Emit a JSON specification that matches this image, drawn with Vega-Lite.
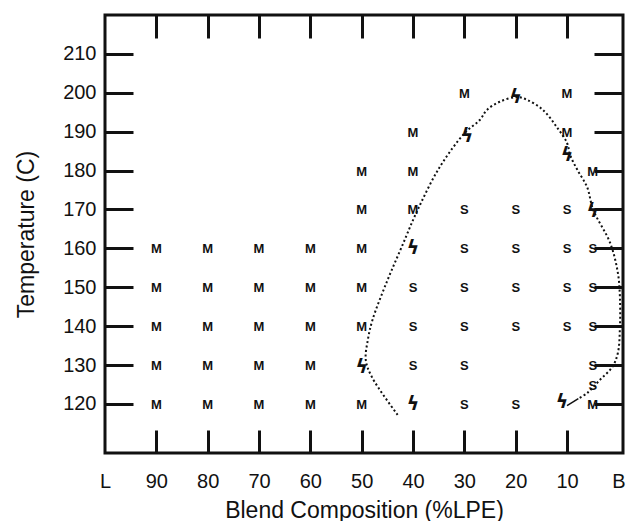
{
  "$schema": "https://vega.github.io/schema/vega-lite/v6.json",
  "width": 518,
  "height": 438,
  "autosize": "none",
  "padding": {"left": 105, "top": 15, "right": 4, "bottom": 68},
  "background": "white",
  "config": {
    "font": "Liberation Sans",
    "view": {"stroke": "#111", "strokeWidth": 3},
    "axis": {
      "grid": false,
      "domain": false,
      "tickColor": "#111",
      "tickWidth": 3,
      "labelColor": "#111",
      "titleColor": "#111",
      "labelFont": "Liberation Sans",
      "titleFont": "Liberation Sans",
      "labelFontSize": 20,
      "titleFontSize": 23,
      "titleFontWeight": "normal",
      "labelFlush": false,
      "labelOverlap": false
    }
  },
  "datasets": {
    "phases": [
      {"comp": 30, "temp": 200, "phase": "M"},
      {"comp": 10, "temp": 200, "phase": "M"},
      {"comp": 40, "temp": 190, "phase": "M"},
      {"comp": 10, "temp": 190, "phase": "M"},
      {"comp": 50, "temp": 180, "phase": "M"},
      {"comp": 40, "temp": 180, "phase": "M"},
      {"comp": 5, "temp": 180, "phase": "M"},
      {"comp": 50, "temp": 170, "phase": "M"},
      {"comp": 40, "temp": 170, "phase": "M"},
      {"comp": 30, "temp": 170, "phase": "S"},
      {"comp": 20, "temp": 170, "phase": "S"},
      {"comp": 10, "temp": 170, "phase": "S"},
      {"comp": 90, "temp": 160, "phase": "M"},
      {"comp": 80, "temp": 160, "phase": "M"},
      {"comp": 70, "temp": 160, "phase": "M"},
      {"comp": 60, "temp": 160, "phase": "M"},
      {"comp": 50, "temp": 160, "phase": "M"},
      {"comp": 30, "temp": 160, "phase": "S"},
      {"comp": 20, "temp": 160, "phase": "S"},
      {"comp": 10, "temp": 160, "phase": "S"},
      {"comp": 5, "temp": 160, "phase": "S"},
      {"comp": 90, "temp": 150, "phase": "M"},
      {"comp": 80, "temp": 150, "phase": "M"},
      {"comp": 70, "temp": 150, "phase": "M"},
      {"comp": 60, "temp": 150, "phase": "M"},
      {"comp": 50, "temp": 150, "phase": "M"},
      {"comp": 40, "temp": 150, "phase": "S"},
      {"comp": 30, "temp": 150, "phase": "S"},
      {"comp": 20, "temp": 150, "phase": "S"},
      {"comp": 10, "temp": 150, "phase": "S"},
      {"comp": 5, "temp": 150, "phase": "S"},
      {"comp": 90, "temp": 140, "phase": "M"},
      {"comp": 80, "temp": 140, "phase": "M"},
      {"comp": 70, "temp": 140, "phase": "M"},
      {"comp": 60, "temp": 140, "phase": "M"},
      {"comp": 50, "temp": 140, "phase": "M"},
      {"comp": 40, "temp": 140, "phase": "S"},
      {"comp": 30, "temp": 140, "phase": "S"},
      {"comp": 20, "temp": 140, "phase": "S"},
      {"comp": 10, "temp": 140, "phase": "S"},
      {"comp": 5, "temp": 140, "phase": "S"},
      {"comp": 90, "temp": 130, "phase": "M"},
      {"comp": 80, "temp": 130, "phase": "M"},
      {"comp": 70, "temp": 130, "phase": "M"},
      {"comp": 60, "temp": 130, "phase": "M"},
      {"comp": 40, "temp": 130, "phase": "S"},
      {"comp": 30, "temp": 130, "phase": "S"},
      {"comp": 5, "temp": 130, "phase": "S"},
      {"comp": 5, "temp": 125, "phase": "S"},
      {"comp": 90, "temp": 120, "phase": "M"},
      {"comp": 80, "temp": 120, "phase": "M"},
      {"comp": 70, "temp": 120, "phase": "M"},
      {"comp": 60, "temp": 120, "phase": "M"},
      {"comp": 50, "temp": 120, "phase": "M"},
      {"comp": 30, "temp": 120, "phase": "S"},
      {"comp": 20, "temp": 120, "phase": "S"},
      {"comp": 5, "temp": 120, "phase": "M"}
    ],
    "transitions": [
      {"comp": 20, "temp": 199},
      {"comp": 29.5, "temp": 189},
      {"comp": 10, "temp": 184},
      {"comp": 5, "temp": 169.5},
      {"comp": 40, "temp": 160},
      {"comp": 50, "temp": 129.5},
      {"comp": 40, "temp": 120},
      {"comp": 11, "temp": 120.5}
    ],
    "boundary": [
      {"i": 0, "comp": 43.0, "temp": 117.2},
      {"i": 1, "comp": 48.0, "temp": 126.9},
      {"i": 2, "comp": 49.2, "temp": 131.3},
      {"i": 3, "comp": 48.8, "temp": 136.5},
      {"i": 4, "comp": 47.9, "temp": 141.6},
      {"i": 5, "comp": 45.2, "temp": 151.1},
      {"i": 6, "comp": 42.2, "temp": 160.4},
      {"i": 7, "comp": 39.1, "temp": 169.9},
      {"i": 8, "comp": 34.8, "temp": 180.9},
      {"i": 9, "comp": 29.9, "temp": 189.7},
      {"i": 10, "comp": 27.0, "temp": 193.0},
      {"i": 11, "comp": 25.6, "temp": 195.6},
      {"i": 12, "comp": 23.1, "temp": 197.7},
      {"i": 13, "comp": 19.8, "temp": 198.9},
      {"i": 14, "comp": 17.8, "temp": 198.2},
      {"i": 15, "comp": 14.7, "temp": 195.6},
      {"i": 16, "comp": 12.0, "temp": 191.2},
      {"i": 17, "comp": 10.0, "temp": 187.1},
      {"i": 18, "comp": 9.4, "temp": 184.0},
      {"i": 19, "comp": 8.0, "temp": 180.2},
      {"i": 20, "comp": 6.1, "temp": 175.8},
      {"i": 21, "comp": 4.9, "temp": 169.9},
      {"i": 22, "comp": 1.6, "temp": 161.4},
      {"i": 23, "comp": 0.1, "temp": 153.7},
      {"i": 24, "comp": -0.3, "temp": 147.5},
      {"i": 25, "comp": -0.3, "temp": 139.8},
      {"i": 26, "comp": 0.1, "temp": 133.1},
      {"i": 27, "comp": 1.2, "temp": 129.5},
      {"i": 28, "comp": 3.6, "temp": 126.2},
      {"i": 29, "comp": 6.1, "temp": 122.8},
      {"i": 30, "comp": 7.8, "temp": 121.4}
    ],
    "boundaryEnd": [
      {"comp": 7.8, "temp": 121.4, "comp2": 10.0, "temp2": 119.6}
    ]
  },
  "layer": [
    {
      "data": {"name": "phases"},
      "mark": {"type": "text", "fontSize": 13, "fontWeight": "bold", "font": "Liberation Sans", "color": "#111", "baseline": "middle", "align": "center", "dy": 1},
      "encoding": {
        "x": {
          "field": "comp", "type": "quantitative",
          "scale": {"domain": [100, -0.9], "nice": false, "zero": false},
          "axis": {
            "orient": "bottom",
            "title": "Blend Composition (%LPE)",
            "values": [100, 90, 80, 70, 60, 50, 40, 30, 20, 10, 0],
            "labelExpr": "datum.value == 100 ? 'L' : datum.value == 0 ? 'B' : datum.label",
            "tickSize": -23,
            "tickOpacity": {"condition": {"test": "datum.value == 100 || datum.value == 0", "value": 0}, "value": 1},
            "labelPadding": 41,
            "titlePadding": 8
          }
        },
        "y": {
          "field": "temp", "type": "quantitative",
          "scale": {"domain": [107.4, 220], "nice": false, "zero": false},
          "axis": {
            "orient": "left",
            "title": "Temperature (C)",
            "values": [120, 130, 140, 150, 160, 170, 180, 190, 200, 210],
            "tickSize": -28,
            "labelPadding": 37,
            "titlePadding": 24
          }
        },
        "text": {"field": "phase"}
      }
    },
    {
      "data": {"name": "boundary"},
      "mark": {"type": "line", "interpolate": "catmull-rom", "color": "#111", "strokeWidth": 2, "strokeDash": [2, 2.5]},
      "encoding": {
        "x": {
          "field": "comp", "type": "quantitative",
          "scale": {"domain": [100, -0.9], "nice": false, "zero": false},
          "axis": {"orient": "top", "title": null, "labels": false, "values": [90, 80, 70, 60, 50, 40, 30, 20, 10], "tickSize": -23}
        },
        "y": {
          "field": "temp", "type": "quantitative",
          "scale": {"domain": [107.4, 220], "nice": false, "zero": false},
          "axis": {"orient": "right", "title": null, "labels": false, "values": [120, 130, 140, 150, 160, 170, 180, 190, 200, 210], "tickSize": -29}
        },
        "order": {"field": "i", "type": "quantitative"}
      }
    },
    {
      "data": {"name": "boundaryEnd"},
      "mark": {"type": "rule", "color": "#111", "strokeWidth": 1.5},
      "encoding": {
        "x": {"field": "comp", "type": "quantitative", "axis": null},
        "y": {"field": "temp", "type": "quantitative", "axis": null},
        "x2": {"field": "comp2"},
        "y2": {"field": "temp2"}
      }
    },
    {
      "data": {"name": "transitions"},
      "mark": {"type": "text", "text": "ϟ", "font": "DejaVu Sans", "fontWeight": "bold", "fontSize": 19, "color": "#111", "baseline": "middle", "align": "center"},
      "encoding": {
        "x": {"field": "comp", "type": "quantitative", "axis": null},
        "y": {"field": "temp", "type": "quantitative", "axis": null}
      }
    }
  ],
  "resolve": {"axis": {"x": "independent", "y": "independent"}}
}
